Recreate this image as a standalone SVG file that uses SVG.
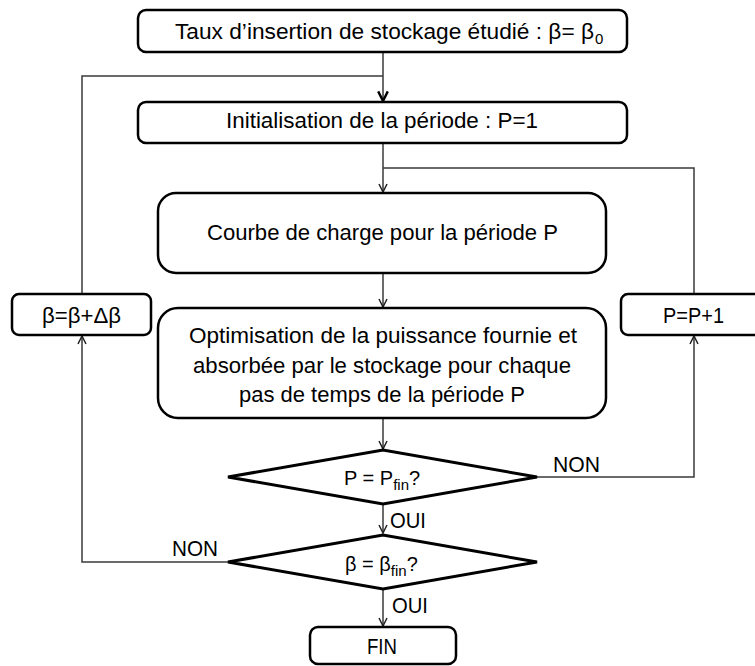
<svg xmlns="http://www.w3.org/2000/svg" width="755" height="666" viewBox="0 0 755 666">
<defs>
<style>
.box{fill:#fff;stroke:#000;stroke-width:2.5}
.dia{fill:#fff;stroke:#000;stroke-width:3}
.con{fill:none;stroke:#3a3a3a;stroke-width:1.5}
.t{font-family:"Liberation Sans",Arial,sans-serif;font-size:22px;fill:#000}
.d{font-family:"Liberation Sans",Arial,sans-serif;font-size:20px;fill:#000}
.s{font-family:"Liberation Sans",Arial,sans-serif;font-size:15px;fill:#000}
</style>
<marker id="arr" viewBox="0 0 10 10" refX="9" refY="5" markerWidth="10" markerHeight="10" markerUnits="userSpaceOnUse" orient="auto">
<path d="M1,1 L9,5 L1,9" fill="none" stroke="#222" stroke-width="1.5"/>
</marker>
<marker id="arrb" viewBox="0 0 10 10" refX="9" refY="5" markerWidth="12" markerHeight="12" markerUnits="userSpaceOnUse" orient="auto">
<path d="M1,1 L9,5 L1,9" fill="none" stroke="#000" stroke-width="2"/>
</marker>
</defs>
<rect width="755" height="666" fill="#fff"/>
<g id="connectors">
<path class="con" d="M383,52 V101" stroke="#000" stroke-width="2" marker-end="url(#arrb)"/>
<path class="con" d="M82,294 V76 H383"/>
<path class="con" d="M383,143 V192" marker-end="url(#arr)"/>
<path class="con" d="M694,294 V168 H383"/>
<path class="con" d="M383,273 V307" marker-end="url(#arr)"/>
<path class="con" d="M383,418 V449" marker-end="url(#arr)"/>
<path class="con" d="M383,504 V533" marker-end="url(#arr)"/>
<path class="con" d="M537,477 H694 V336" marker-end="url(#arr)"/>
<path class="con" d="M228,562 H82 V336" marker-end="url(#arr)"/>
<path class="con" d="M383,589 V626" marker-end="url(#arr)"/>
<text class="t" x="553" y="472" textLength="47" lengthAdjust="spacingAndGlyphs">NON</text>
<text class="t" x="172" y="556" textLength="46" lengthAdjust="spacingAndGlyphs">NON</text>
<text class="t" x="390" y="528" textLength="36" lengthAdjust="spacingAndGlyphs">OUI</text>
<text class="t" x="392" y="613" textLength="36" lengthAdjust="spacingAndGlyphs">OUI</text>
</g>
<g id="start">
<rect class="box" x="138" y="10" width="489" height="42" rx="8"/>
<text class="t" x="175" y="39" textLength="419" lengthAdjust="spacingAndGlyphs">Taux d’insertion de stockage étudié : β= β</text>
<text class="s" x="595" y="44">0</text>
</g>
<g id="init">
<rect class="box" x="138" y="102" width="489" height="41" rx="8"/>
<text class="t" x="226" y="128" textLength="312" lengthAdjust="spacingAndGlyphs">Initialisation de la période : P=1</text>
</g>
<g id="courbe">
<rect class="box" x="158" y="193" width="448" height="80" rx="18"/>
<text class="t" x="207" y="240" textLength="351" lengthAdjust="spacingAndGlyphs">Courbe de charge pour la période P</text>
</g>
<g id="optim">
<rect class="box" x="158" y="308" width="448" height="110" rx="20"/>
<text class="t" x="189" y="343" textLength="388" lengthAdjust="spacingAndGlyphs">Optimisation de la puissance fournie et</text>
<text class="t" x="193" y="373" textLength="378" lengthAdjust="spacingAndGlyphs">absorbée par le stockage pour chaque</text>
<text class="t" x="239" y="402" textLength="286" lengthAdjust="spacingAndGlyphs">pas de temps de la période P</text>
</g>
<g id="beta-inc">
<rect class="box" x="12" y="294" width="139" height="41" rx="7"/>
<text class="t" x="42" y="323" textLength="79" lengthAdjust="spacingAndGlyphs">β=β+Δβ</text>
</g>
<g id="p-inc">
<rect class="box" x="621" y="294" width="146" height="41" rx="7"/>
<text class="t" x="663" y="323" textLength="61" lengthAdjust="spacingAndGlyphs">P=P+1</text>
</g>
<g id="test-p">
<polygon class="dia" points="228,477 383,450 537,477 383,504"/>
<text class="d" x="344" y="485">P = P<tspan class="s" dy="5">fin</tspan><tspan dy="-5">?</tspan></text>
</g>
<g id="test-beta">
<polygon class="dia" points="228,562 383,535 537,562 383,589"/>
<text class="d" x="345" y="571">β = β<tspan class="s" dy="5">fin</tspan><tspan dy="-5">?</tspan></text>
</g>
<g id="fin">
<rect class="box" x="310" y="627" width="146" height="37" rx="8"/>
<text class="t" x="367" y="654" textLength="30" lengthAdjust="spacingAndGlyphs">FIN</text>
</g>
</svg>
